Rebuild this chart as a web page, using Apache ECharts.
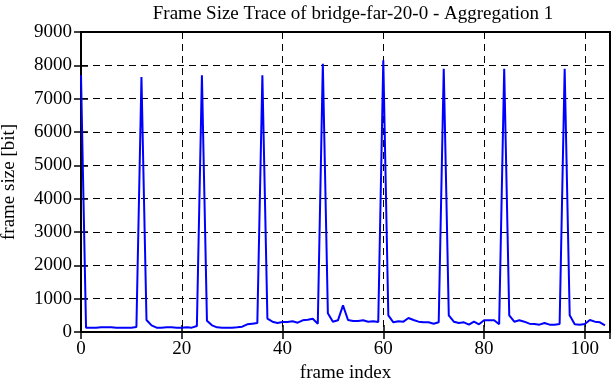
<!DOCTYPE html>
<html>
<head>
<meta charset="utf-8">
<script src="https://cdn.jsdelivr.net/npm/echarts@6/dist/echarts.min.js"></script>
<style>
html,body{margin:0;padding:0;background:#fff;}
#c{width:612px;height:382px;}
</style>
</head>
<body>
<div id="c"></div>
<script>
const titleText = "Frame Size Trace of bridge-far-20-0 - Aggregation 1";
const xName = "frame index";
const yName = "frame size [bit]";
const frameSizes = [
  7700, 130, 130, 130, 140, 140, 140, 130, 130, 130,
  130, 150, 7650, 360, 200, 130, 130, 140, 140, 130,
  130, 140, 130, 180, 7700, 340, 200, 140, 130, 130,
  130, 140, 160, 230, 250, 270, 7700, 400, 310, 270,
  300, 300, 320, 280, 350, 370, 400, 250, 8050, 560,
  310, 350, 800, 360, 330, 330, 350, 310, 320, 300,
  8150, 500, 290, 320, 310, 420, 360, 310, 290, 290,
  250, 290, 7900, 500, 310, 270, 290, 220, 310, 230,
  350, 350, 350, 230, 7900, 500, 310, 350, 310, 250,
  240, 220, 270, 220, 220, 240, 7900, 500, 230, 220,
  240, 360, 310, 290, 200
];
const seriesData = frameSizes.map((v, i) => [i, v]);

const chart = echarts.init(document.getElementById('c'), null, {renderer: 'canvas'});
const font = "Liberation Serif";
const dashed = {show: true, lineStyle: {color: '#000', type: [7, 5], width: 1}};
chart.setOption({
  animation: false,
  backgroundColor: '#fff',
  title: {
    text: titleText, left: 348, top: 0, textAlign: 'center',
    textStyle: {fontFamily: font, fontSize: 19, fontWeight: 'normal', color: '#000'}
  },
  grid: {left: 81, right: 2, top: 32, bottom: 50, containLabel: false, outerBoundsMode: 'none',
         show: true, borderColor: '#000', borderWidth: 2, backgroundColor: 'transparent'},
  xAxis: [{
    type: 'value', min: 0, max: 105, interval: 20,
    name: xName, nameLocation: 'middle', nameGap: 32,
    nameTextStyle: {fontFamily: font, fontSize: 19, color: '#000'},
    axisLine: {show: true, lineStyle: {color: '#000', width: 2}},
    axisTick: {show: true, inside: true, length: 7, lineStyle: {color: '#000', width: 1.5}},
    axisLabel: {fontFamily: font, fontSize: 19, color: '#000', margin: 8, showMaxLabel: false},
    splitLine: dashed
  }, {
    type: 'value', min: 0, max: 105, interval: 20, position: 'top',
    axisLine: {show: true, lineStyle: {color: '#000', width: 2}},
    axisTick: {show: true, inside: true, length: 7, lineStyle: {color: '#000', width: 1.5}},
    axisLabel: {show: false}, splitLine: {show: false}
  }],
  yAxis: [{
    type: 'value', min: 0, max: 9000, interval: 1000,
    name: yName, nameLocation: 'middle', nameGap: 62,
    nameTextStyle: {fontFamily: font, fontSize: 19, color: '#000'},
    axisLine: {show: true, lineStyle: {color: '#000', width: 2}},
    axisTick: {show: true, inside: true, length: 7, lineStyle: {color: '#000', width: 1.5}},
    axisLabel: {fontFamily: font, fontSize: 19, color: '#000', margin: 9, formatter: v => String(v)},
    splitLine: dashed
  }, {
    type: 'value', min: 0, max: 9000, interval: 1000, position: 'right',
    axisLine: {show: true, lineStyle: {color: '#000', width: 2}},
    axisTick: {show: true, inside: true, length: 7, lineStyle: {color: '#000', width: 1.5}},
    axisLabel: {show: false}, splitLine: {show: false}
  }],
  series: [{
    type: 'line', data: seriesData, xAxisIndex: 0, yAxisIndex: 0,
    showSymbol: false, symbol: 'none',
    lineStyle: {color: '#0000ff', width: 2},
    z: 5
  }]
});
</script>
</body>
</html>
